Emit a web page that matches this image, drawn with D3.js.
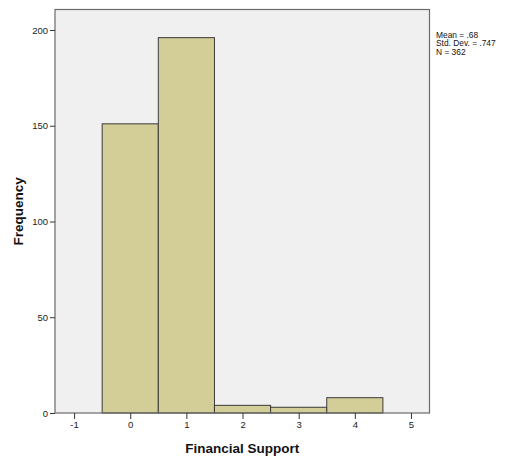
<!DOCTYPE html>
<html><head><meta charset="utf-8">
<script src="https://cdn.jsdelivr.net/npm/d3@7"></script>
<style>html,body{margin:0;padding:0;background:#fff;overflow:hidden;}svg{display:block;}text{font-family:"Liberation Sans",Arial,sans-serif;}</style>
</head><body><svg id="c" width="507" height="459"></svg>
<script>
const bins = [0, 1, 2, 3, 4];
const counts = [151, 196, 4, 3, 8];
const xTicks = [-1, 0, 1, 2, 3, 4, 5];
const yTicks = [0, 50, 100, 150, 200];
const stats = ["Mean = .68", "Std. Dev. = .747", "N = 362"];

const svg = d3.select("#c");
const L = 55, R = 429.5, T = 9.5, B = 413;
const x = d3.scaleLinear().domain([-1.34, 5.33]).range([L, R]);
const y = d3.scaleLinear().domain([0, 210.7]).range([B, T]);

svg.append("rect").attr("x", L).attr("y", T).attr("width", R - L).attr("height", B - T)
  .attr("fill", "#f0f0f0");

svg.selectAll("rect.bar").data(bins).enter().append("rect").attr("class", "bar")
  .attr("x", d => x(d - 0.5)).attr("width", d => x(d + 0.5) - x(d - 0.5))
  .attr("y", (d, i) => y(counts[i])).attr("height", (d, i) => B - y(counts[i]))
  .attr("fill", "#d3ce98").attr("stroke", "#3a3a3a").attr("stroke-width", 1);

svg.append("rect").attr("x", L).attr("y", T).attr("width", R - L).attr("height", B - T)
  .attr("fill", "none").attr("stroke", "#6b6b6b").attr("stroke-width", 1.2);

const xa = svg.append("g").attr("transform", `translate(0,${B})`)
  .call(d3.axisBottom(x).tickValues(xTicks).tickFormat(d3.format("d")).tickSize(6).tickPadding(2));
const ya = svg.append("g").attr("transform", `translate(${L},0)`)
  .call(d3.axisLeft(y).tickValues(yTicks).tickSize(5).tickPadding(2));
[xa, ya].forEach(a => {
  a.select(".domain").remove();
  a.selectAll("line").attr("stroke", "#333");
  a.selectAll("text").attr("font-size", 9.5).attr("fill", "#222")
    .style("font-family", '"Liberation Sans",Arial,sans-serif');
});
xa.selectAll("text").text(d => d < 0 ? "-" + Math.abs(d) : d);

svg.append("text").attr("x", (L + R) / 2).attr("y", 452.5).attr("text-anchor", "middle")
  .attr("font-size", 13.5).attr("font-weight", "bold").attr("fill", "#111").text("Financial Support");
svg.append("text").attr("transform", `translate(22.5,${(T + B) / 2}) rotate(-90)`)
  .attr("text-anchor", "middle").attr("font-size", 13.5).attr("font-weight", "bold")
  .attr("fill", "#111").text("Frequency");

svg.append("g").selectAll("text").data(stats).enter().append("text")
  .attr("x", 436).attr("y", (d, i) => 37.5 + i * 8.6).attr("font-size", 8.4).attr("fill", "#111")
  .text(d => d);
</script></body></html>
